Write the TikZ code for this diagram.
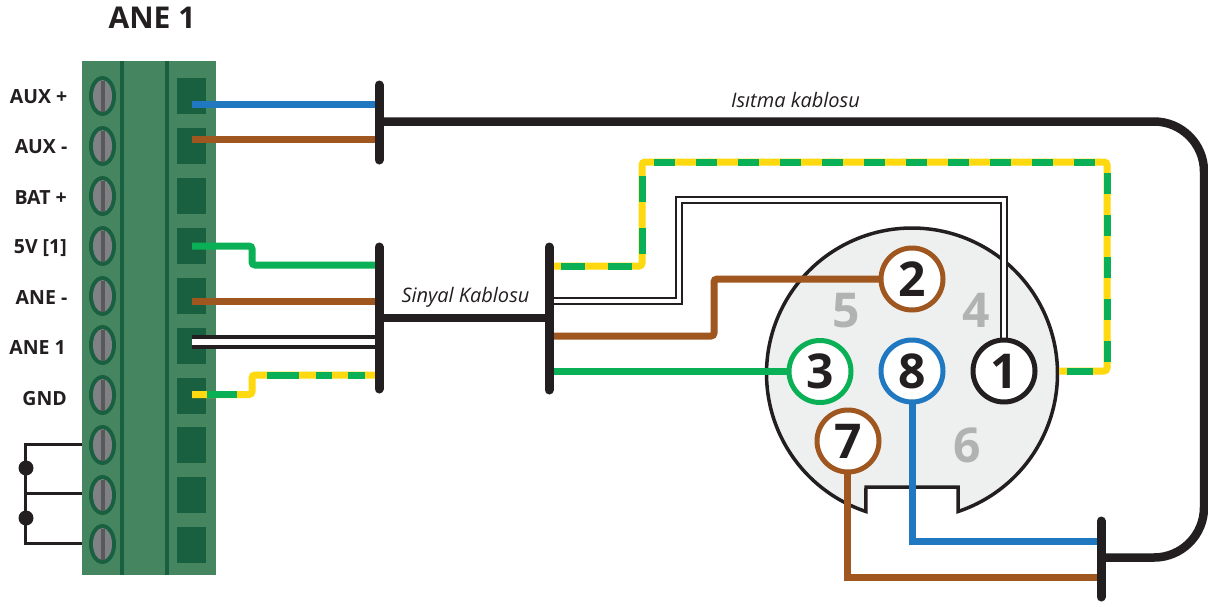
\documentclass[tikz,border=0pt]{standalone}
\usepackage{fontspec}
\setmainfont{Open Sans}
\definecolor{blockg}{HTML}{458660}
\definecolor{darkg}{HTML}{18603F}
\definecolor{screwg}{HTML}{808184}
\definecolor{slotg}{HTML}{58595B}
\definecolor{brw}{HTML}{A0561F}
\definecolor{blw}{HTML}{2079C0}
\definecolor{grw}{HTML}{0AB055}
\definecolor{yew}{HTML}{FFD90F}
\definecolor{ink}{HTML}{231F20}
\definecolor{plug}{HTML}{EEF0F0}
\definecolor{ghost}{HTML}{B0B3B2}
\tikzset{
  wire/.style={line width=7pt,rounded corners=3pt},
  wireb/.style={wire,brw},
  wirel/.style={wire,blw},
  wireg/.style={wire,grw},
  wirey/.style={wire,yew},
  wired/.style={line width=3.5pt,double=white,double distance=6.5pt,ink},
  wirethin/.style={line width=2pt,double=white,double distance=4pt,ink},
  bar/.style={line width=9pt,line cap=round,ink},
  cable/.style={line width=8.5pt,ink,rounded corners=50pt},
  jump/.style={line width=3pt,ink},
  pin/.style={circle,fill=white,line width=5pt,minimum size=62pt,inner sep=0pt,text=ink,font=\fontsize{48}{50}\selectfont\bfseries},
  ghostnum/.style={text=ghost,font=\fontsize{48}{50}\selectfont\bfseries,inner sep=0pt},
  termlabel/.style={anchor=east,text=ink,inner sep=0pt,font=\fontsize{19.5}{21}\selectfont\bfseries},
  cablelabel/.style={text=ink,inner sep=0pt,font=\fontsize{20}{22}\selectfont\itshape},
}
\begin{document}
\begin{tikzpicture}[x=1pt,y=-1pt]
\useasboundingbox (0,0) rectangle (1208,606);
\fill[white] (0,0) rectangle (1208,606);
% terminal block
\fill[blockg] (82,61) rectangle (216,575);
\fill[darkg] (120,61) rectangle (124,575);
\fill[darkg] (165,61) rectangle (169,575);
\foreach \y in {78,128,178,228,278,328,378,427,477,527}
  \fill[darkg] (177,\y) rectangle (206,\y+36);
\foreach \y in {96,146,196,246,296,345,395,445,495,544}{
  \fill[darkg] (102.5,\y) ellipse [x radius=13.5,y radius=20];
  \fill[screwg] (102.5,\y) ellipse [x radius=9.5,y radius=16];
  \fill[slotg] (100.5,\y-15.5) rectangle (104.5,\y+15.5);
}
% labels
\node[text=ink,inner sep=0pt,font=\fontsize{30}{32}\selectfont\bfseries] (title) at (152,18) {ANE 1};
\node[termlabel] (l1) at (67.5,97) {AUX +};
\node[termlabel] (l2) at (67.5,147) {AUX -};
\node[termlabel] (l3) at (67,198) {BAT +};
\node[termlabel] (l4) at (67,248) {5V [1]};
\node[termlabel] (l5) at (67.5,298) {ANE -};
\node[termlabel] (l6) at (66,348) {ANE 1};
\node[termlabel] (l7) at (67,399) {GND};
% jumpers
\coordinate (j1) at (82,444);
\coordinate (j2) at (82,493);
\coordinate (j3) at (82,543);
\coordinate (jx) at (25.5,0);
\draw[jump] (j1) -| (jx |- j3) -- (j3);
\draw[jump] (j2) -- (jx |- j2);
\node[circle,fill=ink,minimum size=15pt,inner sep=0pt] (d1) at (26,468) {};
\node[circle,fill=ink,minimum size=15pt,inner sep=0pt] (d2) at (26,518) {};
% plug body
\filldraw[fill=plug,draw=ink,line width=3.5pt,line join=miter]
  plot[domain=71.5:-251.5,samples=160,smooth] ({912+145.5*cos(\x)},{373.5+145.5*sin(\x)})
  -- (866,487) -- (958,487) -- cycle;
\node[ghostnum] (g5) at (846,311) {5};
\node[ghostnum] (g4) at (976,310) {4};
\node[ghostnum] (g6) at (967,445) {6};
% anchors
\coordinate (bar1) at (379,121.5);
\coordinate (bar2) at (379,318);
\coordinate (bar3) at (549,318);
\coordinate (bar4) at (1101,557.5);
\coordinate (t1) at (192,104.5);
\coordinate (t2) at (192,139.5);
\coordinate (t4) at (192,246);
\coordinate (t5) at (192,301);
\coordinate (t6) at (192,342);
\coordinate (t7) at (192,394.5);
% pins (coordinates first, wires underneath)
\coordinate (c1) at (1004,371);
\coordinate (c2) at (912,279);
\coordinate (c3) at (820,371.5);
\coordinate (c7) at (848,441);
\coordinate (c8) at (912,371);
% wires to first bars
\draw[wirel] (t1) -- (t1 -| bar1);
\draw[wireb] (t2) -- (t2 -| bar1);
\draw[wireg] (t4) -- (252,246) -- (252,265) -- (379,265);
\draw[wireb] (t5) -- (t5 -| bar2);
\draw[wired] (t6) -- (t6 -| bar2);
\draw[wirey] (t7) -- (252,394.5) -- (252,375) -- (379,375);
\draw[wire,grw,rounded corners=0pt] (207,394.5) -- (237,394.5);
\draw[wire,grw,rounded corners=0pt] (267,375) -- (299,375);
\draw[wire,grw,rounded corners=0pt] (316,375) -- (332,375);
\draw[wire,grw,rounded corners=0pt] (348,375) -- (365,375);
% cables
\draw[cable] (bar1) -- (1204,121.5) -- (1204,557.5) -- (bar4);
\draw[cable] (bar2) -- (bar3);
% right side wires
\draw[wirey] (549,266) -- (642,266) -- (642,162) -- (1107,162) -- (1107,371) -- (1059,371);
\draw[wire,grw,rounded corners=0pt,dash pattern=on 24pt off 23pt] (561,266) -- (632,266);
\draw[wire,grw,rounded corners=0pt,dash pattern=on 26pt off 26pt] (642,254) -- (642,176);
\draw[wire,grw,rounded corners=0pt,dash pattern=on 21pt off 21pt] (654,162) -- (1097,162);
\draw[wire,grw,rounded corners=0pt,dash pattern=on 21pt off 21pt] (1107,173) -- (1107,362);
\draw[wire,grw,rounded corners=0pt] (1093,371) -- (1067,371);
\draw[wireb] (549,336) -- (714,336) -- (714,279) -- (c2);
\draw[wireg] (549,371.5) -- (c3);
\draw[wirel,rounded corners=0pt,line join=miter] (c8) -- (912,541.5) -- (1101,541.5);
\draw[wireb,rounded corners=0pt,line join=miter] (847.5,441) -- (847.5,577) -- (1101,577);
\draw[wirethin,line join=miter] (549,301) -- (679,301) -- (679,200) -- (1004,200) -- (c1);
% pins
\node[pin,draw=ink] (p1) at (c1) {1};
\node[pin,draw=brw] (p2) at (c2) {2};
\node[pin,draw=grw] (p3) at (c3) {3};
\node[pin,draw=brw] (p7) at (c7) {7};
\node[pin,draw=blw] (p8) at (c8) {8};
% bars
\draw[bar] (379,85) -- (379,160);
\draw[bar] (379,247) -- (379,389);
\draw[bar] (549,247) -- (549,390);
\draw[bar] (1101,521) -- (1101,597);
% cable labels
\node[cablelabel] (cl1) at (795.5,100) {Isıtma kablosu};
\node[cablelabel] (cl2) at (465.5,297) {Sinyal Kablosu};
\end{tikzpicture}
\end{document}
